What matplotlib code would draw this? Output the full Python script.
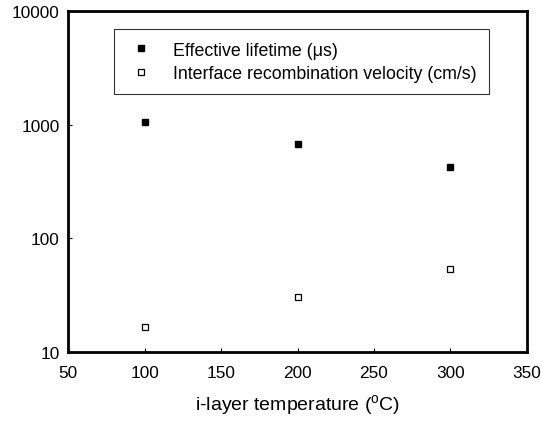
import matplotlib
matplotlib.use('Agg')
import matplotlib.pyplot as plt

plt.rcParams['font.family'] = ['Liberation Sans', 'DejaVu Sans']
plt.rcParams['mathtext.fontset'] = 'custom'
plt.rcParams['mathtext.rm'] = 'Liberation Sans'

# data
temps = [100, 200, 300]
lifetime = [1055, 676, 420]
velocity = [16.5, 30.6, 53.7]
x_ticks = [50, 100, 150, 200, 250, 300, 350]
y_ticks = [10, 100, 1000, 10000]

fig = plt.figure(figsize=(5.42, 4.27), dpi=100)
ax = fig.add_axes([0.1255, 0.1733, 0.8468, 0.7986])

ax.plot(temps, lifetime, 's', color='black', markersize=5, linestyle='none',
        label='Effective lifetime (\u03bcs)')
ax.plot(temps, velocity, 's', markerfacecolor='white', markeredgecolor='black',
        markeredgewidth=0.9, markersize=5, linestyle='none',
        label='Interface recombination velocity (cm/s)')

ax.set_yscale('log')
ax.set_xlim(50, 350)
ax.set_ylim(10, 10000)
ax.set_xticks(x_ticks)
ax.set_xticklabels([str(v) for v in x_ticks])
ax.set_yticks(y_ticks)
ax.set_yticklabels([str(v) for v in y_ticks])
ax.minorticks_off()
ax.tick_params(direction='in', length=3, width=0.8, labelsize=12.4, pad=6)
ax.tick_params(axis='x', pad=9)
for s in ax.spines.values():
    s.set_linewidth(2)

ax.set_xlabel('i-layer temperature ($^{\\rm o}$C)', fontsize=14, labelpad=9)

leg = ax.legend(loc='upper left', bbox_to_anchor=(0.1, 0.947), borderaxespad=0,
                fontsize=12.8, frameon=True, fancybox=False, edgecolor='black',
                handletextpad=1.0, borderpad=0.7, labelspacing=0.35,
                handlelength=1.6)
leg.get_frame().set_linewidth(0.8)

fig.savefig('out.png', dpi=100)
